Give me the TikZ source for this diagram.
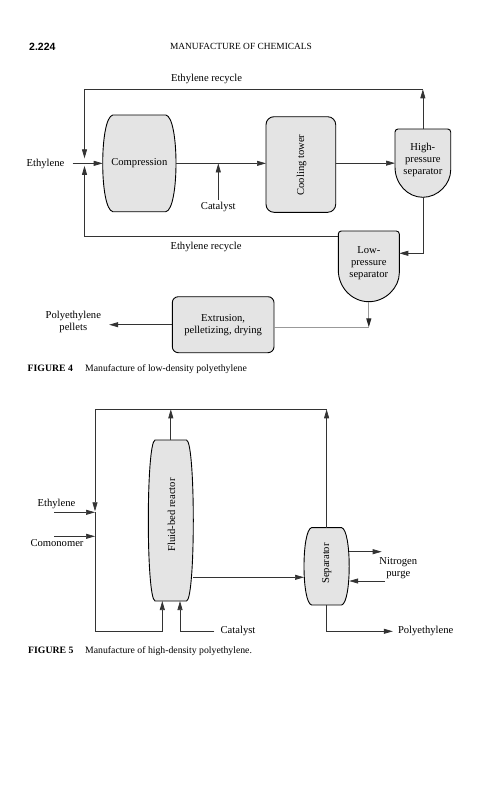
\documentclass[tikz,border=0pt]{standalone}
\usepackage{fontspec}
\setmainfont{Liberation Serif}
\newfontfamily\hdrsans{Liberation Sans}
\usetikzlibrary{arrows.meta,calc}
\definecolor{unitgray}{RGB}{228,228,228}
\tikzset{
  vesselfill/.style={fill=unitgray, draw=black, line width=0.9pt},
  unitbox/.style={vesselfill, inner sep=0pt, outer sep=0pt},
  anc/.style={draw=none, inner sep=0pt, outer sep=0pt},
  lbl/.style={font=\fontsize{10.6}{12}\selectfont, inner sep=2pt, align=center},
  conn/.style={draw=black!80, line width=0.7pt},
  arr/.style={conn, -{Triangle[length=9pt,width=5pt]}},
  feed/.style={draw=black!40, line width=1.1pt},
  feedarr/.style={feed, -{Triangle[length=9pt,width=5pt,color=black!85]}},
}
% barrel: cx cy Wmid w0 h k
\newcommand\barrelpath[6]{%
  \pgfmathsetmacro\bwid{(4*#3-#4)/3}%
  \filldraw[vesselfill] ({#1-#4},{#2-#5}) -- ({#1+#4},{#2-#5})
    .. controls ({#1+\bwid},{#2-#5+#6}) and ({#1+\bwid},{#2+#5-#6}) .. ({#1+#4},{#2+#5})
    -- ({#1-#4},{#2+#5})
    .. controls ({#1-\bwid},{#2+#5-#6}) and ({#1-\bwid},{#2-#5+#6}) .. cycle;}
% separator: x0 x1 ytop ycurve ybot
\newcommand\seppath[5]{%
  \pgfmathsetmacro\scx{(#1+#2)/2}\pgfmathsetmacro\srx{(#2-#1)/2}\pgfmathsetmacro\sry{#5-#4}%
  \filldraw[vesselfill] (#1,#4) [rounded corners=3pt] -- (#1,#3) -- (#2,#3) -- (#2,#4) [sharp corners]
    .. controls (#2,{#4+0.552*\sry}) and ({\scx+0.552*\srx},#5) .. (\scx,#5)
    .. controls ({\scx-0.552*\srx},#5) and (#1,{#4+0.552*\sry}) .. cycle;}
\begin{document}
\begin{tikzpicture}[x=1pt,y=-1pt]
\useasboundingbox (0,0) rectangle (481,800);
% header
\node[anchor=base west, inner sep=0pt, font=\hdrsans\bfseries\fontsize{10.5}{12}\selectfont] (pgno) at (29,51) {2.224};
\node[anchor=base, inner sep=0pt, font=\fontsize{9.4}{11}\selectfont] (runhead) at (241,50) {MANUFACTURE OF CHEMICALS};

% ===== FIGURE 4 =====
\barrelpath{139.35}{163.35}{36.65}{26.5}{48.35}{2.5}
\node[lbl, anc, minimum width=73.3pt, minimum height=96.7pt] (comp) at (139.35,163.35) {Compression};

\node[unitbox, rounded corners=8pt, minimum width=69.7pt, minimum height=95.6pt] (cool) at (300.85,164.5) {};
\node[lbl, rotate=90] (coolt) at (301.5,165) {Cooling tower};

\seppath{395}{450.7}{129}{167}{197.3}
\node[anc, minimum width=55.7pt, minimum height=68.3pt] (hp) at (422.85,163.15) {};
\node[lbl] (hpt) at (422.85,159.5) {High-\\pressure\\separator};

\seppath{338.3}{399.3}{231}{270}{301.7}
\node[anc, minimum width=61pt, minimum height=70.7pt] (lp) at (368.8,266.35) {};
\node[lbl] (lpt) at (368.8,263) {Low-\\pressure\\separator};

\node[lbl, unitbox, rounded corners=6pt, minimum width=101.7pt, minimum height=56pt] (ext) at (223.15,324.7) {Extrusion,\\pelletizing, drying};

\node[lbl] (eth1) at (45.5,164) {Ethylene};
\node[lbl] (rec1) at (206.5,78.5) {Ethylene recycle};
\node[lbl] (rec2) at (206,246.7) {Ethylene recycle};
\node[lbl] (cat1) at (218.3,207) {Catalyst};
\node[lbl] (pel) at (73.3,322) {Polyethylene\\pellets};

\coordinate (rtop) at (84.5,89.3);
\coordinate (rbot) at (84.5,236.7);
\coordinate (hpturn) at (422.85,253.3);
\coordinate (lpturn) at (368.8,327.3);

\draw[arr, shorten <=6pt] (comp.west -| eth1.east) -- (comp.west);
\draw[arr] (hp.north) -- (hp.north |- rtop);
\draw[arr, shorten >=5pt] (hp.north |- rtop) -- (rtop) -- (rtop |- comp.west);
\draw[arr, shorten >=2.5pt] (lp.west |- rbot) -- (rbot) -- (rbot |- comp.west);
\draw[arr] (comp.east) -- (comp.east -| cool.west);
\draw[arr] (cat1.north) -- (cat1.north |- comp.east);
\draw[arr] (cool.east |- hp.west) -- (hp.west);
\draw[arr] (hp.south) -- (hpturn) -- (hpturn -| lp.east);
\draw[feedarr] (lp.south) -- (lpturn);
\draw[feed] (lpturn) -- (lpturn -| ext.east);
\draw[arr, shorten >=6pt] (ext.west) -- (ext.west -| pel.east);

\node[anchor=base west, inner sep=0pt, font=\bfseries\fontsize{9.75}{12}\selectfont] (fig4) at (27.5,371) {FIGURE 4};
\node[anchor=base west, inner sep=0pt, font=\fontsize{9.75}{12}\selectfont] (cap4) at (85,371) {Manufacture of low-density polyethylene};

% ===== FIGURE 5 =====
\barrelpath{170.8}{520.5}{22.5}{15.8}{80.5}{3}
\node[anc, minimum width=45pt, minimum height=161pt] (reac) at (170.8,520.5) {};
\node[lbl, rotate=90] (react) at (171.5,515) {Fluid-bed reactor};

\barrelpath{326.6}{566.3}{22.6}{15}{38.7}{2.5}
\node[anc, minimum width=45.2pt, minimum height=77.4pt] (sep) at (326.6,566.3) {};
\node[lbl, rotate=90] (sept) at (326.7,563.5) {Separator};

\node[lbl] (eth2) at (56.5,504) {Ethylene};
\node[lbl] (como) at (57,542.7) {Comonomer};
\node[lbl] (cat2) at (238,631.3) {Catalyst};
\node[lbl] (nitro) at (398.3,568.3) {Nitrogen\\purge};
\node[lbl] (pe) at (425.7,631.3) {Polyethylene};

\coordinate (rtop2) at (95,409.3);
\coordinate (mix) at (95,512.3);
\coordinate (rbl) at (95,631.3);
\coordinate (rin) at (162.3,631.3);
\coordinate (catc) at (180,631.3);
\coordinate (ethin) at (54,512.3);
\coordinate (comin) at (54,536.3);
\coordinate (rs) at (193.3,577.3);
\coordinate (n2out) at (381.7,551.7);
\coordinate (n2in) at (385,581);
\coordinate (sb) at (326.6,631.3);

\draw[arr] (reac.north) -- (reac.north |- rtop2);
\draw[arr] (sep.north) -- (sep.north |- rtop2);
\draw[arr, shorten >=1pt] (sep.north |- rtop2) -- (rtop2) -- (mix);
\draw[arr] (ethin) -- (mix);
\draw[arr] (comin) -- (comin -| mix);
\draw[arr] (mix) -- (rbl) -- (rin) -- (rin |- reac.south);
\draw[arr, shorten <=4pt] (cat2.west) -- (catc) -- (catc |- reac.south);
\draw[arr] (rs) -- (rs -| sep.west);
\draw[arr] (n2out -| sep.east) -- (n2out);
\draw[arr] (n2in) -- (n2in -| sep.east);
\draw[arr, shorten >=3pt] (sep.south) -- (sb) -- (sb -| pe.west);

\node[anchor=base west, inner sep=0pt, font=\bfseries\fontsize{9.75}{12}\selectfont] (fig5) at (28,653.5) {FIGURE 5};
\node[anchor=base west, inner sep=0pt, font=\fontsize{9.75}{12}\selectfont] (cap5) at (85,653.5) {Manufacture of high-density polyethylene.};
\end{tikzpicture}
\end{document}
